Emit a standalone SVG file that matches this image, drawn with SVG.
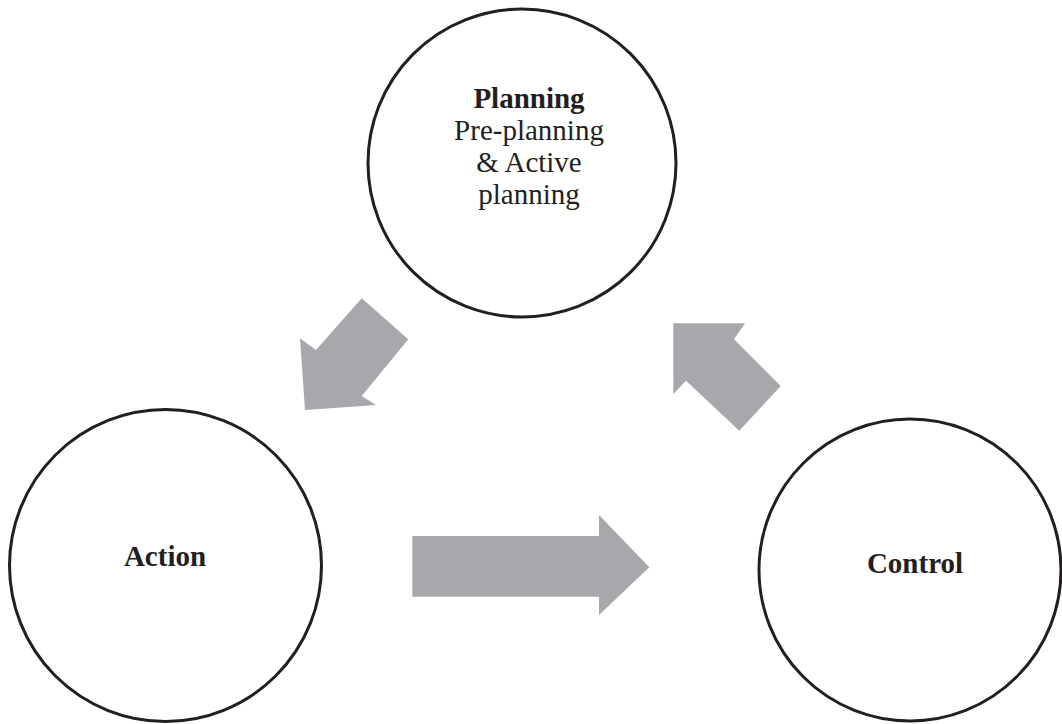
<svg xmlns="http://www.w3.org/2000/svg" width="1062" height="724" viewBox="0 0 1062 724">
<style>
.node{fill:#fff;stroke:#231f20;stroke-width:3}
.arrow{fill:#a7a8ab;stroke:none}
text{font-family:"Liberation Serif","Times New Roman",serif;font-size:29px;fill:#231f20;text-anchor:middle}
.b{font-weight:bold}
</style>
<rect width="1062" height="724" fill="#fff"/>
<g id="connectors">
<polygon class="arrow" points="361.7,298.3 408.3,339.3 361.7,396 376,405 305,410 300,338.3 316,350"/>
<polygon class="arrow" points="673.3,323.3 745,323.3 734,339.3 780.7,386 739.3,430.7 686,380.7 673.3,394"/>
<polygon class="arrow" points="412.3,536 599,536 599,515 649.3,567.3 599,615 599,596.7 412.3,596.7"/>
</g>
<g id="planning">
<circle class="node" cx="522" cy="163" r="154"/>
<text x="529" y="108" class="b">Planning</text>
<text x="529" y="140">Pre-planning</text>
<text x="529" y="172">&amp; Active</text>
<text x="529" y="204">planning</text>
</g>
<g id="action">
<circle class="node" cx="165.5" cy="565.5" r="156"/>
<text x="165" y="566" class="b">Action</text>
</g>
<g id="control">
<circle class="node" cx="910" cy="570" r="151"/>
<text x="915" y="573" class="b">Control</text>
</g>
</svg>
